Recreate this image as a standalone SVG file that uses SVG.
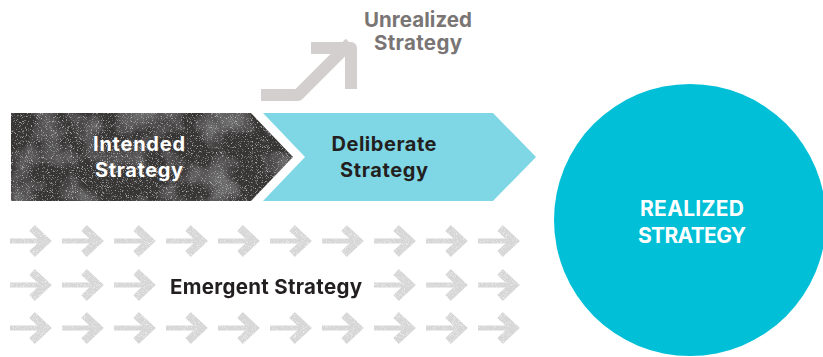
<svg xmlns="http://www.w3.org/2000/svg" xmlns:xlink="http://www.w3.org/1999/xlink" width="823" height="357" viewBox="0 0 823 357">
  <style>
    .lbl { font-family: Inter, "Liberation Sans", Arial, sans-serif; font-weight: 700; text-anchor: middle; }
    .white { fill: #ffffff; }
    .dark { fill: #231f20; }
    .grey { fill: #7a7575; }
    .small-arrow path { fill: none; stroke: #d6d6d6; }
  </style>
  <defs>
    <!-- worn, speckled print texture for the dark chevron -->
    <filter id="grunge" x="0" y="0" width="100%" height="100%">
      <feTurbulence type="fractalNoise" baseFrequency="1.2" numOctaves="2" seed="7" result="fine"/>
      <feColorMatrix in="fine" type="matrix" values="0 0 0 0 0.8  0 0 0 0 0.8  0 0 0 0 0.8  2.4 0 0 0 -1.4" result="specks"/>
      <feTurbulence type="fractalNoise" baseFrequency="0.03" numOctaves="3" seed="3" result="coarse"/>
      <feColorMatrix in="coarse" type="matrix" values="0 0 0 0 0.5  0 0 0 0 0.5  0 0 0 0 0.5  0.7 0 0 0 -0.3" result="haze"/>
      <feMerge result="tex"><feMergeNode in="haze"/><feMergeNode in="specks"/></feMerge>
      <feComposite in="tex" in2="SourceGraphic" operator="in" result="clipped"/>
      <feMerge><feMergeNode in="SourceGraphic"/><feMergeNode in="clipped"/></feMerge>
    </filter>
    <!-- light grain for the small grey arrows -->
    <filter id="grain" x="-10%" y="-10%" width="120%" height="120%">
      <feTurbulence type="fractalNoise" baseFrequency="1.1" numOctaves="2" seed="11" result="n"/>
      <feColorMatrix in="n" type="matrix" values="0 0 0 0 0.95  0 0 0 0 0.95  0 0 0 0 0.95  2.2 0 0 0 -1.1" result="dots"/>
      <feComposite in="dots" in2="SourceGraphic" operator="in" result="d"/>
      <feMerge><feMergeNode in="SourceGraphic"/><feMergeNode in="d"/></feMerge>
    </filter>
    <g id="arw" class="small-arrow">
      <path d="M0,0 H35" stroke-width="5"/>
      <path d="M22,-13 L36,0 L22,13" stroke-width="8" stroke-linejoin="miter" stroke-miterlimit="6"/>
    </g>
  </defs>

  <rect width="823" height="357" fill="#ffffff"/>

  <!-- unrealized branch -->
  <g id="unrealized">
    <path d="M261,95 H298 L350,43 M311,48 H351 V89" fill="none" stroke="#d3cfce" stroke-width="12" stroke-linejoin="round"/>
    <text class="lbl grey" font-size="20.5" x="418" y="27" textLength="108">Unrealized</text>
    <text class="lbl grey" font-size="20.5" x="418" y="50" textLength="88">Strategy</text>
  </g>

  <!-- intended strategy chevron -->
  <g id="intended">
    <polygon points="11,113 251,113 293,157 251,201 11,201" fill="#393634" filter="url(#grunge)"/>
    <text class="lbl white" font-size="20" x="139" y="151" textLength="92">Intended</text>
    <text class="lbl white" font-size="20" x="139" y="177" textLength="88">Strategy</text>
  </g>

  <!-- deliberate strategy chevron -->
  <g id="deliberate">
    <polygon points="263,113 493,113 536,157 493,201 263,201 305,157" fill="#7fd7e6"/>
    <text class="lbl dark" font-size="20" x="384" y="151" textLength="105">Deliberate</text>
    <text class="lbl dark" font-size="20" x="384" y="177" textLength="88">Strategy</text>
  </g>

  <!-- realized strategy -->
  <g id="realized">
    <circle cx="690" cy="220" r="136" fill="#00bfd6"/>
    <text class="lbl white" font-size="21" x="692" y="216" textLength="104">REALIZED</text>
    <text class="lbl white" font-size="21" x="692" y="243" textLength="108">STRATEGY</text>
  </g>

  <!-- emergent strategy: rows of small arrows -->
  <g id="emergent-arrows" filter="url(#grain)">
    <use xlink:href="#arw" x="10" y="241"/>
    <use xlink:href="#arw" x="62" y="241"/>
    <use xlink:href="#arw" x="114" y="241"/>
    <use xlink:href="#arw" x="166" y="241"/>
    <use xlink:href="#arw" x="218" y="241"/>
    <use xlink:href="#arw" x="270" y="241"/>
    <use xlink:href="#arw" x="322" y="241"/>
    <use xlink:href="#arw" x="374" y="241"/>
    <use xlink:href="#arw" x="426" y="241"/>
    <use xlink:href="#arw" x="478" y="241"/>

    <use xlink:href="#arw" x="10" y="285"/>
    <use xlink:href="#arw" x="62" y="285"/>
    <use xlink:href="#arw" x="114" y="285"/>
    <use xlink:href="#arw" x="374" y="285"/>
    <use xlink:href="#arw" x="426" y="285"/>
    <use xlink:href="#arw" x="478" y="285"/>

    <use xlink:href="#arw" x="10" y="328"/>
    <use xlink:href="#arw" x="62" y="328"/>
    <use xlink:href="#arw" x="114" y="328"/>
    <use xlink:href="#arw" x="166" y="328"/>
    <use xlink:href="#arw" x="218" y="328"/>
    <use xlink:href="#arw" x="270" y="328"/>
    <use xlink:href="#arw" x="322" y="328"/>
    <use xlink:href="#arw" x="374" y="328"/>
    <use xlink:href="#arw" x="426" y="328"/>
    <use xlink:href="#arw" x="478" y="328"/>
  </g>
  <g id="emergent">
    <text class="lbl dark" font-size="20.5" x="266" y="294" textLength="192">Emergent Strategy</text>
  </g>
</svg>
